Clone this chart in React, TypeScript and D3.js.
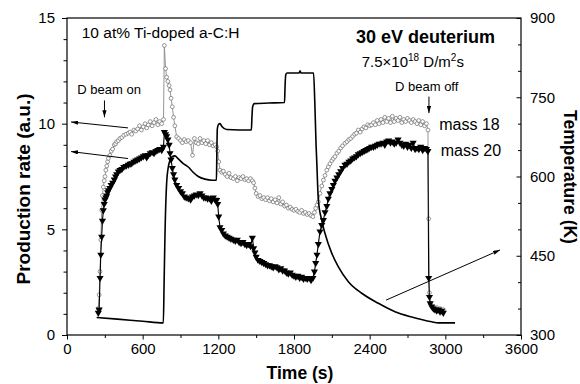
import React, { useRef, useEffect } from 'react';
import * as d3 from 'd3';

// time (s) of each mass-spec sample, shared by both masses
const times = [
  248, 255, 262, 268, 275, 281, 288, 295, 301, 308,
  315, 322, 328, 340, 350, 362, 375, 385, 394, 407,
  420, 435, 450, 468, 486, 500, 513, 530, 545, 560,
  575, 590, 605, 620, 632, 645, 660, 675, 690, 705,
  720, 735, 751, 765, 772, 782, 790, 800, 810, 817,
  825, 835, 845, 855, 870, 885, 900, 915, 930, 945,
  962, 980, 995, 1010, 1025, 1041, 1055, 1070, 1085, 1100,
  1115, 1130, 1145, 1160, 1175, 1187, 1195, 1203, 1213, 1227,
  1240, 1255, 1270, 1285, 1300, 1319, 1335, 1350, 1365, 1380,
  1395, 1410, 1425, 1440, 1455, 1470, 1480, 1490, 1500, 1515,
  1530, 1545, 1560, 1575, 1590, 1605, 1620, 1635, 1650, 1665,
  1680, 1695, 1710, 1725, 1740, 1755, 1770, 1785, 1800, 1815,
  1830, 1845, 1860, 1875, 1890, 1905, 1920, 1935, 1950, 1962,
  1972, 1982, 1993, 2006, 2020, 2033, 2046, 2060, 2072, 2085,
  2100, 2112, 2125, 2140, 2155, 2170, 2185, 2204, 2220, 2235,
  2250, 2265, 2280, 2295, 2310, 2325, 2340, 2355, 2370, 2385,
  2400, 2415, 2430, 2445, 2460, 2475, 2490, 2505, 2520, 2535,
  2550, 2565, 2580, 2595, 2610, 2625, 2640, 2655, 2670, 2685,
  2700, 2715, 2730, 2745, 2760, 2775, 2790, 2805, 2820, 2835,
  2850, 2862, 2868, 2874, 2880, 2892, 2905, 2918, 2932, 2945,
  2958, 2971, 2984,
];

const mass18 = [
  1.25, 1.9, 3.0, 4.5, 5.9, 6.6, 7.0, 7.3, 7.5, 7.8,
  8.0, 8.2, 8.36, 8.5, 8.7, 8.8, 9.0, 9.05, 9.15, 9.2,
  9.3, 9.35, 9.45, 9.5, 9.55, 9.6, 9.5, 9.7, 9.65, 9.75,
  9.9, 9.7, 9.85, 10.0, 9.8, 9.94, 10.1, 9.9, 10.05, 10.2,
  9.95, 10.1, 10.0, 10.2, 13.7, 12.6, 12.2, 12.0, 11.8, 11.6,
  11.2, 10.8, 10.3, 9.9, 9.38, 9.3, 9.2, 9.1, 9.25, 9.15,
  9.2, 9.1, 8.5, 9.3, 9.1, 9.05, 9.3, 9.1, 9.2, 9.05,
  9.2, 9.0, 9.1, 8.95, 9.0, 8.9, 8.7, 8.2, 7.8, 7.7,
  7.75, 7.6, 7.5, 7.65, 7.45, 7.4, 7.5, 7.3, 7.45, 7.4,
  7.5, 7.35, 7.4, 7.3, 7.4, 7.3, 7.2, 6.95, 6.7, 6.55,
  6.6, 6.45, 6.5, 6.4, 6.5, 6.35, 6.45, 6.3, 6.4, 6.25,
  6.5, 6.2, 6.3, 6.1, 6.15, 6.0, 6.05, 5.95, 5.9, 5.95,
  5.85, 5.8, 5.9, 5.75, 5.8, 5.7, 5.75, 5.65, 5.6, 5.8,
  6.0, 6.15, 6.3, 6.7, 7.05, 7.33, 7.55, 7.8, 7.96, 8.1,
  8.25, 8.35, 8.44, 8.6, 8.7, 8.85, 8.95, 9.07, 9.15, 9.25,
  9.3, 9.4, 9.5, 9.55, 9.7, 9.6, 9.75, 9.85, 9.8, 9.95,
  9.9, 9.94, 10.05, 9.95, 10.15, 10.0, 10.2, 10.05, 10.3, 10.1,
  10.25, 10.05, 10.35, 10.1, 10.25, 10.15, 10.3, 10.05, 10.2, 10.1,
  10.25, 10.15, 10.05, 10.2, 10.1, 10.0, 10.15, 9.95, 10.1, 9.9,
  10.0, 9.7, 5.5, 2.0, 1.5, 1.35, 1.3, 1.25, 1.3, 1.2,
  1.25, 1.15, 1.2,
];

const mass20 = [
  1.05, 1.2, 2.7, 3.8, 4.65, 5.4, 5.9, 6.2, 6.4, 6.5,
  6.6, 6.75, 6.85, 6.95, 7.1, 7.2, 7.35, 7.5, 7.6, 7.73,
  7.8, 7.85, 7.95, 8.0, 8.05, 8.1, 8.12, 8.2, 8.25, 8.3,
  8.35, 8.4, 8.45, 8.5, 8.4, 8.52, 8.6, 8.65, 8.6, 8.7,
  8.75, 8.8, 8.75, 8.9, 9.6, 9.5, 9.4, 9.25, 9.0, 8.6,
  8.3, 7.9, 7.6, 7.35, 7.1, 6.95, 6.8, 6.7, 6.55, 6.5,
  6.47, 6.4, 6.55, 6.6, 6.65, 6.62, 6.7, 6.6, 6.5, 6.5,
  6.45, 6.47, 6.35, 6.5, 6.4, 6.39, 6.2, 5.6, 5.1, 4.97,
  4.8, 4.7, 4.65, 4.6, 4.55, 4.5, 4.45, 4.5, 4.4, 4.35,
  4.4, 4.3, 4.25, 4.3, 4.2, 4.6, 4.1, 3.9, 3.7, 3.55,
  3.5, 3.45, 3.4, 3.35, 3.3, 3.3, 3.25, 3.2, 3.25, 3.2,
  3.1, 3.15, 3.05, 3.05, 2.95, 2.9, 2.95, 2.85, 2.8, 2.75,
  2.8, 2.7, 2.75, 2.65, 2.7, 2.65, 2.7, 2.6, 2.7, 3.0,
  3.4, 3.8, 4.3, 4.9, 5.2, 5.44, 5.8, 6.1, 6.45, 6.7,
  6.9, 7.1, 7.3, 7.45, 7.6, 7.75, 7.9, 8.05, 8.1, 8.2,
  8.25, 8.35, 8.4, 8.45, 8.55, 8.6, 8.65, 8.7, 8.75, 8.8,
  8.85, 8.9, 8.9, 8.95, 9.0, 9.05, 9.05, 9.1, 9.0, 9.15,
  9.2, 9.1, 9.15, 9.05, 9.1, 9.25, 9.1, 9.0, 8.95, 9.05,
  8.9, 9.0, 8.85, 9.1, 8.8, 8.85, 8.8, 8.9, 8.75, 8.85,
  8.8, 8.7, 2.7, 1.8, 1.5, 1.35, 1.25, 1.2, 1.15, 1.2,
  1.1, 1.15, 1.05,
];

// sample temperature (K), right axis
const tempTimes = [
  235, 400, 600, 764, 770, 777, 790, 805, 817, 835,
  856, 880, 920, 962, 1000, 1041, 1094, 1150, 1185, 1188,
  1192, 1200, 1213, 1230, 1266, 1462, 1466, 1472, 1485, 1600,
  1725, 1729, 1735, 1745, 1840, 1848, 1856, 1955, 1965, 1975,
  1980, 1993, 2019, 2046, 2099, 2152, 2231, 2337, 2469, 2601,
  2733, 2892, 2945, 3077,
];
const tempValues = [
  333, 330, 326, 323, 400, 490, 587, 620, 631, 638,
  639, 634, 625, 618, 608, 600, 595, 593, 593, 640,
  690, 698, 700, 694, 689, 688, 710, 732, 738, 739,
  740, 770, 793, 796, 796, 800, 796, 796, 740, 660,
  631, 556, 518, 492, 455, 429, 401, 379, 360, 344,
  334, 325, 323, 323,
];

const xTicks = [0, 600, 1200, 1800, 2400, 3000, 3600];
const xMinor = [300, 900, 1500, 2100, 2700, 3300];
const leftTicks = [0, 5, 10, 15];
const leftMinor = [1, 2, 3, 4, 6, 7, 8, 9, 11, 12, 13, 14];
const rightTicks = [300, 450, 600, 750, 900];
const rightMinor = [350, 400, 500, 550, 650, 700, 800, 850];

const FONT = '"Liberation Sans", Arial, Helvetica, sans-serif';

const App = () => {
  const svgRef = useRef<SVGSVGElement>(null);

  useEffect(() => {
    const svg = d3.select(svgRef.current);
    svg.selectAll('*').remove();

    const left = 67, right = 521, top = 18, bottom = 335;

    const x = d3.scaleLinear().domain([0, 3600]).range([left, right]);
    const yL = d3.scaleLinear().domain([0, 15]).range([bottom, top]);
    const yR = d3.scaleLinear().domain([300, 900]).range([bottom, top]);

    // arrow head
    svg.append('defs').append('marker')
      .attr('id', 'arr')
      .attr('viewBox', '0 0 10 6')
      .attr('refX', 10).attr('refY', 3)
      .attr('markerWidth', 7).attr('markerHeight', 4.2)
      .attr('markerUnits', 'userSpaceOnUse')
      .attr('orient', 'auto')
      .append('path').attr('d', 'M0,0 L10,3 L0,6 Z').attr('fill', '#000');

    const styleAxis = (g, size = 15) => {
      g.selectAll('text').attr('font-family', FONT).attr('font-size', size).attr('fill', '#000');
      g.selectAll('line').attr('stroke', '#000').attr('stroke-width', 1);
      g.select('.domain').remove();
    };

    // bottom axis
    svg.append('g').attr('transform', `translate(0,${bottom})`)
      .call(d3.axisBottom(x).tickValues(xTicks).tickSize(4.5).tickPadding(4).tickFormat(d3.format('d')))
      .call(styleAxis);
    svg.append('g').attr('transform', `translate(0,${bottom})`)
      .call(d3.axisBottom(x).tickValues(xMinor).tickSize(3).tickFormat(() => ''))
      .call(styleAxis);

    // left axis
    svg.append('g').attr('transform', `translate(${left},0)`)
      .call(d3.axisLeft(yL).tickValues(leftTicks).tickSize(5).tickPadding(7))
      .call(styleAxis);
    svg.append('g').attr('transform', `translate(${left},0)`)
      .call(d3.axisLeft(yL).tickValues(leftMinor).tickSize(3.5).tickFormat(() => ''))
      .call(styleAxis);

    // right axis, ticks pointing in
    svg.append('g').attr('transform', `translate(${right},0)`)
      .call(d3.axisRight(yR).tickValues(rightTicks).tickSize(-4.5).tickPadding(9))
      .call(styleAxis);
    svg.append('g').attr('transform', `translate(${right},0)`)
      .call(d3.axisRight(yR).tickValues(rightMinor).tickSize(-3).tickFormat(() => ''))
      .call(styleAxis);

    // frame
    svg.append('rect')
      .attr('x', left).attr('y', top)
      .attr('width', right - left).attr('height', bottom - top)
      .attr('fill', 'none').attr('stroke', '#000').attr('stroke-width', 1.2);

    const idx = times.map((_, i) => i);

    // mass 18 : open circles
    svg.append('path')
      .datum(idx)
      .attr('fill', 'none').attr('stroke', '#8a8a8a').attr('stroke-width', 0.9)
      .attr('d', d3.line<number>().x(i => x(times[i])).y(i => yL(mass18[i])));
    svg.append('g').selectAll('circle')
      .data(idx).enter().append('circle')
      .attr('cx', i => x(times[i])).attr('cy', i => yL(mass18[i]))
      .attr('r', 1.9)
      .attr('fill', '#fff').attr('stroke', '#6a6a6a').attr('stroke-width', 0.7);

    // mass 20 : filled down triangles
    svg.append('path')
      .datum(idx)
      .attr('fill', 'none').attr('stroke', '#000').attr('stroke-width', 1.1)
      .attr('d', d3.line<number>().x(i => x(times[i])).y(i => yL(mass20[i])));
    const tri = d3.symbol().type(d3.symbolTriangle).size(22);
    svg.append('g').selectAll('path')
      .data(idx).enter().append('path')
      .attr('d', tri)
      .attr('transform', i => `translate(${x(times[i])},${yL(mass20[i])}) rotate(180)`)
      .attr('fill', '#000');

    // temperature
    svg.append('path')
      .datum(tempTimes.map((t, i) => [t, tempValues[i]]))
      .attr('fill', 'none').attr('stroke', '#000').attr('stroke-width', 1.6)
      .attr('d', d3.line().x(d => x(d[0])).y(d => yR(d[1])).curve(d3.curveMonotoneX));

    // annotations
    const arrow = (x1, y1, x2, y2) => svg.append('line')
      .attr('x1', x1).attr('y1', y1).attr('x2', x2).attr('y2', y2)
      .attr('stroke', '#000').attr('stroke-width', 1)
      .attr('marker-end', 'url(#arr)');

    arrow(x(297), yL(11.1), x(297), yL(10.3));
    arrow(x(484), yL(9.8), x(32), yL(10.08));
    arrow(x(484), yL(8.35), x(32), yL(8.68));
    arrow(x(2870), yL(11.28), x(2870), yL(10.5));
    arrow(x(2530), yR(366), x(3434), yR(461));

    const label = (tx, ty, str, size, weight = 'normal', anchor = 'start') => svg.append('text')
      .attr('x', tx).attr('y', ty)
      .attr('font-family', FONT).attr('font-size', size)
      .attr('font-weight', weight).attr('text-anchor', anchor)
      .attr('fill', '#000')
      .text(str);

    label(x(117), yL(14.05), '10 at% Ti-doped a-C:H', 15.5);
    label(x(3394), yL(13.82), '30 eV deuterium', 18, 'bold', 'end');
    label(x(82), yL(11.4), 'D beam on', 13);
    label(x(2601), yL(11.56), 'D beam off', 13);
    label(x(2952), yL(9.7), 'mass 18', 16);
    label(x(2963), yL(8.47), 'mass 20', 16);

    const flux = svg.append('text')
      .attr('x', x(2337)).attr('y', yL(12.7))
      .attr('font-family', FONT).attr('font-size', 15).attr('fill', '#000');
    flux.append('tspan').text('7.5\u00d710');
    flux.append('tspan').attr('font-size', 10).attr('dy', -6).text('18');
    flux.append('tspan').attr('dy', 6).text(' D/m');
    flux.append('tspan').attr('font-size', 10).attr('dy', -6).text('2');
    flux.append('tspan').attr('dy', 6).text('s');

    // axis titles
    label(x(1800) + 6, 379, 'Time (s)', 17.5, 'bold', 'middle');
    svg.append('text')
      .attr('transform', 'translate(30,189) rotate(-90)')
      .attr('font-family', FONT).attr('font-size', 19).attr('font-weight', 'bold')
      .attr('text-anchor', 'middle').attr('fill', '#000')
      .text('Production rate (a.u.)');
    svg.append('text')
      .attr('transform', 'translate(564,177) rotate(90)')
      .attr('font-family', FONT).attr('font-size', 17.5).attr('font-weight', 'bold')
      .attr('text-anchor', 'middle').attr('fill', '#000')
      .text('Temperature (K)');
  }, []);

  return (
    <svg ref={svgRef} width={580} height={384}
      style={{ position: 'absolute', left: 0, top: 0, background: '#fff', display: 'block' }} />
  );
};

export default App;
